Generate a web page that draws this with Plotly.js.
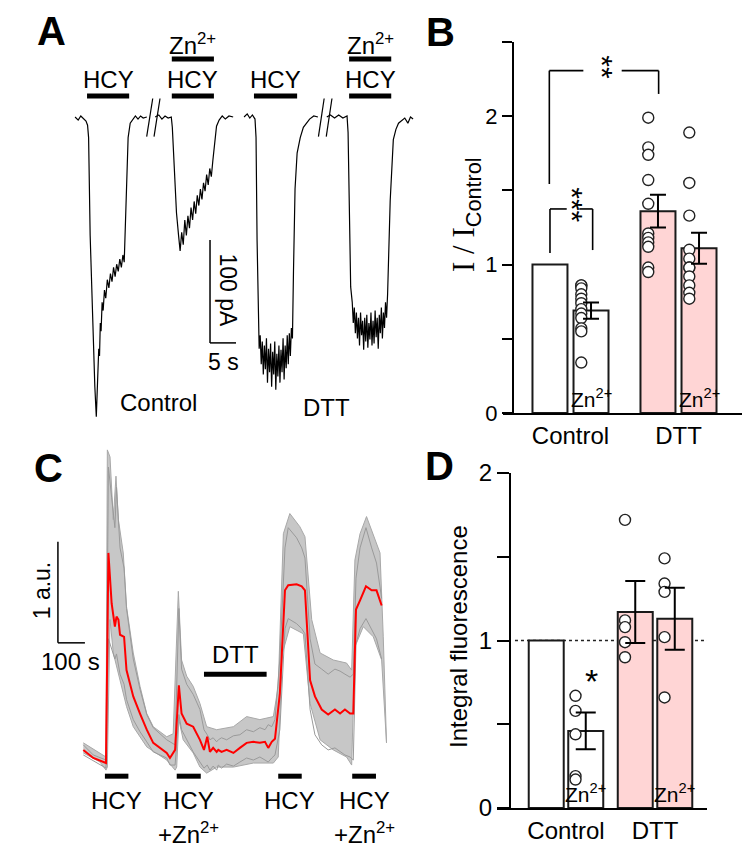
<!DOCTYPE html>
<html><head><meta charset="utf-8">
<script src="https://cdn.plot.ly/plotly-3.0.1.min.js"></script>
<style>html,body{margin:0;padding:0;background:#fff}#plot{width:753px;height:858px}</style>
</head><body><div id="plot"></div>
<script>
// ---------------- Panel A: whole-cell currents (time s, current pA) ----------------
const ctrlT = [2.9,3.5,4.0,4.5,5.0,5.3,5.5,5.8,6.1,6.4,6.7,6.98,7.1,7.3,7.45,7.6,7.75,7.9,8.1,8.3,8.55,8.8,9.1,9.4,9.7,10.0,10.3,10.6,10.9,11.2,11.5,11.8,12.1,12.35,12.6,12.85,13.1,13.5,14.0,14.5,15.0,15.5,16.0,16.7];
const ctrlI = [0,-3,1,-2,-4,-8,-20,-115,-170,-215,-262,-291,-270,-248,-225,-232,-200,-208,-180,-188,-168,-176,-158,-166,-152,-160,-146,-155,-143,-150,-138,-146,-134,-141,-100,-50,-20,-6,-2,1,-2,1,-1,0];
const ctrlZnT = [18.3,19.0,19.6,20.2,20.8,21.4,21.6,22.0,22.4,22.8,23.1,23.4,23.7,24.0,24.3,24.6,24.9,25.2,25.5,25.8,26.1,26.4,26.7,27.0,27.3,27.6,27.9,28.2,28.5,28.8,29.1,29.4,29.7,30.1,30.6,31.2,31.8,32.5,33.3];
const ctrlZnI = [0,2,-2,1,-1,0,-10,-50,-93,-115,-130,-112,-124,-100,-115,-96,-108,-88,-100,-82,-94,-76,-86,-70,-80,-64,-72,-56,-66,-50,-58,-42,-25,-9,-3,1,-2,1,0];
const dttT = [35.4,36.0,36.5,37.0,37.5,37.7,37.9,38.1,38.3,38.5,38.7,38.9,39.1,39.3,39.5,39.7,39.9,40.1,40.3,40.5,40.7,40.9,41.1,41.3,41.5,41.7,41.9,42.1,42.3,42.5,42.7,42.9,43.1,43.3,43.5,43.7,43.9,44.1,44.3,44.5,44.7,44.9,45.2,45.6,46.2,46.8,47.4,48.0,48.8,49.6];
const dttI = [0,3,-1,2,-2,-20,-120,-200,-225,-212,-240,-218,-250,-222,-245,-215,-258,-225,-248,-220,-262,-228,-250,-218,-265,-230,-252,-222,-258,-226,-248,-215,-255,-222,-244,-212,-240,-210,-232,-205,-215,-150,-70,-35,-20,-10,-6,-2,1,0];
const dttZnT = [51.3,52.0,52.8,53.6,54.4,55.2,55.4,55.6,55.9,56.2,56.4,56.6,56.8,57.0,57.2,57.4,57.6,57.8,58.0,58.2,58.4,58.6,58.8,59.0,59.2,59.4,59.6,59.8,60.0,60.2,60.4,60.6,60.8,61.0,61.2,61.4,61.6,61.8,62.0,62.2,62.4,62.6,62.8,63.0,63.2,63.5,64.1,64.6,65.1,65.7,66.3,66.9,67.4,67.9];
const dttZnI = [0,2,-1,2,-1,1,-15,-90,-165,-180,-200,-185,-210,-190,-215,-195,-222,-190,-212,-198,-226,-195,-218,-192,-224,-200,-216,-190,-222,-198,-220,-188,-214,-195,-225,-192,-210,-185,-215,-190,-205,-180,-195,-172,-130,-81,-22,-12,-6,-3,-1,-6,0,-2];
const aStimOn  = [5.2, 21.5, 37.3, 55.6];
const aStimOff = [13.3, 29.6, 45.6, 63.7];
const aStimZn  = [false, true, false, true];
const aCondLabels = ['Control', 'DTT'];

// ---------------- Panel B: I / I_Control ----------------
const categories = ['Control', 'DTT'];
const bMean = [1.00, 0.69, 1.36, 1.11];
const bSem  = [0, 0.055, 0.11, 0.105];
const bPtsCtrlZn = [0.86,0.86,0.84,0.80,0.77,0.74,0.70,0.67,0.64,0.57,0.55,0.34];
const bPtsDtt    = [1.99,1.79,1.74,1.57,1.41,1.21,1.18,1.15,1.12,0.98,0.95];
const bPtsDttZn  = [1.89,1.55,1.33,1.10,1.04,0.98,0.98,0.92,0.86,0.81,0.77];

// ---------------- Panel C: fluorescence (time s, a.u.) ----------------
const cT   = [0,37,84,93,105,117,123,130,136,151,160,185,210,235,259,309,321,340,354,364,383,407,432,447,459,469,481,494,500,512,531,556,580,605,630,654,673,685,698,710,728,747,759,790,809,821,840,858,883,907,932,951,969,988,1000,1010,1025,1047,1068,1086,1105];
const cMeanF = [0.10,0.02,-0.03,2.05,1.55,1.32,1.42,1.39,1.24,1.22,0.89,0.63,0.46,0.30,0.17,0.07,0.02,0.10,0.74,0.46,0.36,0.33,0.20,0.10,0.23,0.08,0.12,0.08,0.10,0.08,0.10,0.07,0.12,0.17,0.18,0.17,0.18,0.12,0.18,0.21,0.66,1.68,1.73,1.74,1.72,1.68,0.79,0.63,0.50,0.45,0.50,0.46,0.50,0.46,0.46,1.49,1.58,1.72,1.68,1.68,1.53];
const cCellA = [0.15,0.05,0.0,2.9,2.6,2.3,2.7,2.3,2.1,1.9,1.5,1.0,0.7,0.45,0.32,0.2,0.18,0.15,1.5,0.9,0.75,0.65,0.5,0.3,0.25,0.2,0.22,0.18,0.2,0.22,0.2,0.24,0.25,0.3,0.28,0.32,0.3,0.35,0.33,0.4,1.0,2.1,2.3,2.2,2.1,2.0,1.2,0.95,0.9,0.85,0.9,0.88,0.85,0.82,0.85,1.8,2.1,2.3,2.1,1.95,1.6];
const cCellB = [0.05,-0.01,-0.08,1.2,1.1,1.0,1.05,0.95,0.85,0.75,0.6,0.4,0.28,0.18,0.08,0.02,-0.05,-0.05,0.45,0.3,0.2,0.08,-0.02,-0.08,-0.05,-0.1,-0.06,-0.1,-0.05,-0.08,-0.04,-0.06,-0.02,0.02,0.0,0.03,0.0,-0.02,0.02,0.05,0.3,1.3,1.4,1.35,1.3,1.25,0.5,0.25,0.15,0.1,0.12,0.08,0.05,0.03,0.0,1.15,1.3,1.4,1.3,1.2,1.0];
const cUpT = [0,62,84,89,99,111,121,130,148,160,185,210,235,259,309,333,352,364,383,407,432,457,494,556,605,654,704,722,741,765,802,821,846,877,926,975,994,1006,1025,1049,1074,1099,1111,1123];
const cUpF = [0.17,0.07,0.03,3.07,3.00,2.38,2.81,2.38,2.05,1.52,1.06,0.73,0.46,0.33,0.23,0.26,1.67,0.99,0.83,0.73,0.56,0.33,0.30,0.33,0.43,0.40,0.43,0.73,2.24,2.44,2.31,2.21,1.39,1.06,0.99,0.96,0.89,1.98,2.24,2.41,2.24,2.05,1.22,0.20];
const cLoT = [0,62,84,89,99,111,136,160,185,235,309,340,346,354,370,407,432,457,494,556,630,704,722,738,765,815,840,877,926,975,994,1006,1037,1074,1105,1123];
const cLoF = [0.07,-0.02,-0.10,-0.07,1.39,1.06,0.79,0.53,0.33,0.13,0.0,-0.10,-0.07,0.40,0.20,0.07,-0.07,-0.13,-0.07,-0.07,-0.03,-0.03,0.03,1.06,1.32,1.25,0.56,0.20,0.10,0.03,-0.05,1.12,1.32,1.22,0.99,0.17];
const cStimOn  = [80, 346, 722, 996];
const cStimOff = [167, 435, 809, 1084];
const cStimZn  = [false, true, false, true];
const cDttOn = 447, cDttOff = 679;

// ---------------- Panel D: integral fluorescence ----------------
const dMean = [1.00, 0.46, 1.17, 1.13];
const dSem  = [0, 0.11, 0.185, 0.185];
const dPtsCtrlZn = [0.67,0.58,0.44,0.19,0.17];
const dPtsDtt    = [1.72,1.12,1.08,0.99,0.90];
const dPtsDttZn  = [1.49,1.34,1.29,1.02,0.66];

// ---------------- layout helpers ----------------
const W = 753, H = 858;
const fx = p => p / W, fy = p => 1 - p / H;
const FONT = 'Liberation Sans, Arial, sans-serif';
const PINK = '#ffd5d5';
const traces = [], shapes = [], ann = [];

function txt(x, y, xref, yref, text, size, extra) {
  ann.push(Object.assign({x, y, xref, yref, text, showarrow: false,
    xanchor: 'center', yanchor: 'middle',
    font: {family: FONT, size: size, color: '#000'}}, extra || {}));
}
function seg(x0, y0, x1, y1, xref, yref, w, extra) {
  shapes.push(Object.assign({type: 'line', x0, y0, x1, y1, xref, yref,
    line: {color: '#000', width: w}}, extra || {}));
}

// ---------- Panel A ----------
[[ctrlT, ctrlI], [ctrlZnT, ctrlZnI], [dttT, dttI], [dttZnT, dttZnI]].forEach(([t, i]) => {
  traces.push({type: 'scatter', mode: 'lines', x: t, y: i, xaxis: 'x', yaxis: 'y',
    line: {color: '#000', width: 1.2}, hoverinfo: 'skip'});
});
aStimOn.forEach((on, k) => {
  const off = aStimOff[k], mid = (on + off) / 2;
  seg(on, 20.4, off, 20.4, 'x', 'y', 5);
  txt(mid, 36, 'x', 'y', 'HCY', 24);
  if (aStimZn[k]) {
    seg(on, 56.3, off, 56.3, 'x', 'y', 5);
    txt(mid, 71, 'x', 'y', 'Zn<sup>2+</sup>', 24);
  }
});
// axis-break marks
[[16.67, 17.83], [18.08, 19.23], [49.7, 50.8], [51.2, 52.3]].forEach(([a, b]) => {
  seg(a, -19, b, 18, 'x', 'y', 1.2);
});
// scale bar 100 pA / 5 s
seg(28.85, -119.4, 28.85, -219.4, 'x', 'y', 1.5);
seg(28.85, -219.4, 33.85, -219.4, 'x', 'y', 1.5);
txt(32.4, -169, 'x', 'y', '100 pA', 23, {textangle: 90});
txt(31.4, -238, 'x', 'y', '5 s', 23);
txt(19.0, -277, 'x', 'y', aCondLabels[0], 24);
txt(51.3, -282, 'x', 'y', aCondLabels[1], 24);

// ---------- bar panel builder (B, D) ----------
function barPanel(xa, ya, means, sems, pts, off, barW, ptOff, capW) {
  const centers = [0 - off, 0 + off, 1 - off, 1 + off];
  traces.push({type: 'bar', x: centers, y: means, width: barW, xaxis: xa, yaxis: ya,
    marker: {color: ['#ffffff', '#ffffff', PINK, PINK], line: {color: '#1a1a1a', width: 2}},
    hoverinfo: 'skip'});
  const ptsX = [], ptsY = [];
  pts.forEach((arr, k) => {
    const bi = k + 1;
    arr.forEach(v => { ptsX.push(centers[bi] + ptOff); ptsY.push(v); });
  });
  traces.push({type: 'scatter', mode: 'markers', x: ptsX, y: ptsY, xaxis: xa, yaxis: ya,
    marker: {symbol: 'circle', size: 11, color: '#ffffff', line: {color: '#222', width: 1.4}},
    hoverinfo: 'skip'});
  traces.push({type: 'scatter', mode: 'markers', x: centers.slice(1), y: means.slice(1),
    xaxis: xa, yaxis: ya, marker: {size: 1, color: 'rgba(0,0,0,0)'},
    error_y: {type: 'data', array: sems.slice(1), visible: true, color: '#000', thickness: 2, width: capW},
    hoverinfo: 'skip'});
  return centers;
}

// ---------- Panel B ----------
const bC = barPanel('x2', 'y2', bMean, bSem, [bPtsCtrlZn, bPtsDtt, bPtsDttZn], 0.19, 0.324, -0.09, 8);
// *** bracket
seg(-0.19, 1.078, -0.19, 1.375, 'x2', 'y2', 1.6);
seg(-0.19, 1.375, -0.035, 1.375, 'x2', 'y2', 1.6);
seg(0.082, 1.375, 0.205, 1.375, 'x2', 'y2', 1.6);
seg(0.205, 1.375, 0.205, 1.098, 'x2', 'y2', 1.6);
txt(0.023, 1.40, 'x2', 'y2', '***', 30, {textangle: 90});
// ** bracket
seg(-0.196, 1.543, -0.196, 2.307, 'x2', 'y2', 1.6);
seg(-0.196, 2.307, 0.119, 2.307, 'x2', 'y2', 1.6);
seg(0.474, 2.307, 0.816, 2.307, 'x2', 'y2', 1.6);
seg(0.816, 2.307, 0.816, 2.15, 'x2', 'y2', 1.6);
txt(0.30, 2.33, 'x2', 'y2', '**', 30, {textangle: 90});
txt(bC[1], 0.10, 'x2', 'y2', 'Zn<sup>2+</sup>', 21);
txt(bC[3], 0.10, 'x2', 'y2', 'Zn<sup>2+</sup>', 21);
txt(fx(466), fy(215), 'paper', 'paper',
  '<span style="font-family:Liberation Serif, Times New Roman, serif">I / I</span><sub>Control</sub>', 31,
  {textangle: -90});

// ---------- Panel C ----------
traces.push({type: 'scatter', mode: 'lines', x: cUpT.concat(cLoT.slice().reverse()),
  y: cUpF.concat(cLoF.slice().reverse()), fill: 'toself', fillcolor: 'rgba(175,175,175,0.7)',
  line: {color: '#a8a8a8', width: 1}, xaxis: 'x3', yaxis: 'y3', hoverinfo: 'skip'});
[cCellA, cCellB].forEach(v => {
  traces.push({type: 'scatter', mode: 'lines', x: cT, y: v, xaxis: 'x3', yaxis: 'y3',
    line: {color: '#9a9a9a', width: 1}, hoverinfo: 'skip'});
});
traces.push({type: 'scatter', mode: 'lines', x: cT, y: cMeanF, xaxis: 'x3', yaxis: 'y3',
  line: {color: '#ff0000', width: 2}, hoverinfo: 'skip'});
cStimOn.forEach((on, k) => {
  const off = cStimOff[k], mid = (on + off) / 2;
  seg(on, -0.16, off, -0.16, 'x3', 'y3', 5);
  txt(mid, -0.40, 'x3', 'y3', 'HCY', 24);
  if (cStimZn[k]) txt(mid, -0.72, 'x3', 'y3', '+Zn<sup>2+</sup>', 24);
});
seg(cDttOn, 0.85, cDttOff, 0.85, 'x3', 'y3', 5);
txt((cDttOn + cDttOff) / 2, 1.04, 'x3', 'y3', 'DTT', 24);
// scale bar 1 a.u. / 100 s
seg(-94, 1.16, -94, 2.16, 'x3', 'y3', 1.5);
seg(-94, 1.16, 6, 1.16, 'x3', 'y3', 1.5);
txt(-153, 1.68, 'x3', 'y3', '1 a.u.', 23, {textangle: -90});
txt(-49, 0.98, 'x3', 'y3', '100 s', 24);

// ---------- Panel D ----------
shapes.push({type: 'line', xref: 'x4', yref: 'y4', x0: -0.573, x1: 1.584, y0: 1, y1: 1,
  line: {color: '#222', width: 1.3, dash: 'dot'}, layer: 'below'});
const dC = barPanel('x4', 'y4', dMean, dSem, [dPtsCtrlZn, dPtsDtt, dPtsDttZn], 0.222, 0.393, -0.115, 10);
txt(0.292, 0.76, 'x4', 'y4', '*', 34);
txt(dC[1], 0.09, 'x4', 'y4', 'Zn<sup>2+</sup>', 21);
txt(dC[3], 0.09, 'x4', 'y4', 'Zn<sup>2+</sup>', 21);
txt(fx(458), fy(637), 'paper', 'paper', 'Integral fluorescence', 24, {textangle: -90});

// ---------- panel letters ----------
[['A', 51, 31], ['B', 440, 32], ['C', 48, 468], ['D', 439, 466]].forEach(([l, x, y]) => {
  txt(fx(x), fy(y), 'paper', 'paper', '<b>' + l + '</b>', 40);
});

const hidden = {visible: false, fixedrange: true};
const catAxis = (dom, rng, anchor) => ({domain: dom, range: rng, anchor: anchor,
  showline: true, linecolor: '#000', linewidth: 2, ticks: '', tickvals: [0, 1], ticktext: categories,
  tickfont: {family: FONT, size: 24, color: '#000'}, showgrid: false, zeroline: false, fixedrange: true});
const valAxis = (dom, rng, pos, ticklen, fsize) => ({domain: dom, range: rng, anchor: 'free',
  position: pos, showline: true, linecolor: '#000', linewidth: 2, ticks: 'outside', ticklen: ticklen,
  tickwidth: 2, tickcolor: '#000', tickmode: 'linear', tick0: 0, dtick: 1,
  minor: {tickmode: 'linear', tick0: 0, dtick: 0.5, ticks: 'outside', ticklen: ticklen, tickwidth: 2,
          tickcolor: '#000', showgrid: false},
  tickfont: {family: FONT, size: fsize, color: '#000'}, showgrid: false, zeroline: false, fixedrange: true});

const layout = {
  width: W, height: H, margin: {l: 0, r: 0, t: 0, b: 0},
  paper_bgcolor: '#fff', plot_bgcolor: 'rgba(0,0,0,0)', showlegend: false, hovermode: false,
  font: {family: FONT, color: '#000'},
  xaxis:  Object.assign({domain: [fx(60), fx(420)], range: [0, 69.23], anchor: 'y'}, hidden),
  yaxis:  Object.assign({domain: [fy(430), fy(30)], range: [-304, 84.5], anchor: 'x'}, hidden),
  xaxis2: catAxis([fx(503), fx(742)], [-0.625, 1.588], 'y2'),
  yaxis2: valAxis([fy(413), fy(42)], [0, 2.5], fx(513), 10, 22),
  xaxis3: Object.assign({domain: [fx(30), fx(400)], range: [-197.4, 1173], anchor: 'y3'}, hidden),
  yaxis3: Object.assign({domain: [0, fy(440)], range: [-0.970, 3.168], anchor: 'x3'}, hidden),
  xaxis4: catAxis([fx(497), fx(707)], [-0.775, 1.584], 'y4'),
  yaxis4: valAxis([fy(808), fy(473)], [0, 2], fx(510), 12, 24),
  shapes: shapes, annotations: ann
};
Plotly.newPlot('plot', traces, layout, {displayModeBar: false, staticPlot: true});
</script>
</body></html>
